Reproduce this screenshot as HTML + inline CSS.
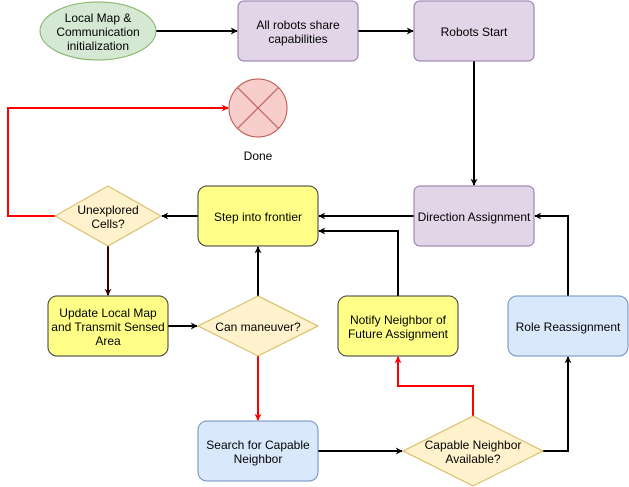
<!DOCTYPE html>
<html><head><meta charset="utf-8"><style>
html,body{margin:0;padding:0;background:#fff;}
svg{display:block;}
text{font-family:"Liberation Sans",Arial,sans-serif;font-size:12px;fill:#000;text-anchor:middle;}
</style></head><body>
<svg width="629" height="487" viewBox="0 0 629 487" xmlns="http://www.w3.org/2000/svg">
<defs>
<marker id="ab" viewBox="0 0 10 10" refX="9" refY="5" markerWidth="7" markerHeight="7" orient="auto" markerUnits="userSpaceOnUse"><path d="M0,0 L10,5 L0,10 L3,5 z" fill="#000"/></marker>
<marker id="ar" viewBox="0 0 10 10" refX="9" refY="5" markerWidth="7" markerHeight="7" orient="auto" markerUnits="userSpaceOnUse"><path d="M0,0 L10,5 L0,10 L3,5 z" fill="#ff0000"/></marker>
<marker id="ad" viewBox="0 0 10 10" refX="9" refY="5" markerWidth="7" markerHeight="7" orient="auto" markerUnits="userSpaceOnUse"><path d="M0,0 L10,5 L0,10 L3,5 z" fill="#330000"/></marker>
</defs>
<g fill="none" stroke-width="2">
<path d="M156,31 H237" stroke="#000" marker-end="url(#ab)"/>
<path d="M358,31 H413" stroke="#000" marker-end="url(#ab)"/>
<path d="M474,61 V185" stroke="#000" marker-end="url(#ab)"/>
<path d="M414,216 H319" stroke="#000" marker-end="url(#ab)"/>
<path d="M198,216 H162" stroke="#000" marker-end="url(#ab)"/>
<path d="M55,216 H8 V108 H228" stroke="#ff0000" marker-end="url(#ar)"/>
<path d="M108,246 V295" stroke="#330000" marker-end="url(#ad)"/>
<path d="M168,326 H197" stroke="#000" marker-end="url(#ab)"/>
<path d="M258,296 V247" stroke="#000" marker-end="url(#ab)"/>
<path d="M258,356 V420" stroke="#ff0000" marker-end="url(#ar)"/>
<path d="M318,451 H402" stroke="#000" marker-end="url(#ab)"/>
<path d="M473,416 V386 H398 V357" stroke="#ff0000" marker-end="url(#ar)"/>
<path d="M543,451 H568 V357" stroke="#000" marker-end="url(#ab)"/>
<path d="M568,296 V216 H535" stroke="#000" marker-end="url(#ab)"/>
<path d="M398,296 V231 H319" stroke="#000" marker-end="url(#ab)"/>
</g>
<ellipse cx="98" cy="31" rx="58" ry="29" fill="#d5e8d4" stroke="#82b366"/>
<rect x="238" y="1" width="120" height="60" rx="6" fill="#e1d5e7" stroke="#9673a6"/>
<rect x="414" y="1" width="120" height="60" rx="6" fill="#e1d5e7" stroke="#9673a6"/>
<rect x="414" y="186" width="120" height="60" rx="6" fill="#e1d5e7" stroke="#9673a6"/>
<circle cx="258" cy="108" r="29" fill="#f8cecc" stroke="#b85450"/>
<path d="M237.5,87.5 L278.5,128.5 M278.5,87.5 L237.5,128.5" stroke="#b85450" stroke-width="1"/>
<rect x="198" y="186" width="120" height="60" rx="9" fill="#ffff88" stroke="#36393d"/>
<polygon points="108,186 161,216 108,246 55,216" fill="#fff2cc" stroke="#d6b656"/>
<rect x="48" y="296" width="120" height="60" rx="9" fill="#ffff88" stroke="#36393d"/>
<polygon points="258,296 318,326 258,356 198,326" fill="#fff2cc" stroke="#d6b656"/>
<rect x="338" y="296" width="120" height="60" rx="9" fill="#ffff88" stroke="#36393d"/>
<rect x="508" y="296" width="120" height="60" rx="9" fill="#dae8fc" stroke="#6c8ebf"/>
<rect x="198" y="421" width="120" height="60" rx="9" fill="#dae8fc" stroke="#6c8ebf"/>
<polygon points="473,416 543,451 473,486 403,451" fill="#fff2cc" stroke="#d6b656"/>
<text x="98" y="22">Local Map &amp;</text>
<text x="98" y="36">Communication</text>
<text x="98" y="50">initialization</text>
<text x="298" y="29">All robots share</text>
<text x="298" y="43">capabilities</text>
<text x="474" y="36">Robots Start</text>
<text x="258" y="160">Done</text>
<text x="474" y="221">Direction Assignment</text>
<text x="258" y="221">Step into frontier</text>
<text x="108" y="214">Unexplored</text>
<text x="108" y="228">Cells?</text>
<text x="108" y="317">Update Local Map</text>
<text x="108" y="331">and Transmit Sensed</text>
<text x="108" y="345">Area</text>
<text x="258" y="331">Can maneuver?</text>
<text x="398" y="324">Notify Neighbor of</text>
<text x="398" y="338">Future Assignment</text>
<text x="568" y="331">Role Reassignment</text>
<text x="258" y="449">Search for Capable</text>
<text x="258" y="463">Neighbor</text>
<text x="473" y="449">Capable Neighbor</text>
<text x="473" y="463">Available?</text>
</svg>
</body></html>
